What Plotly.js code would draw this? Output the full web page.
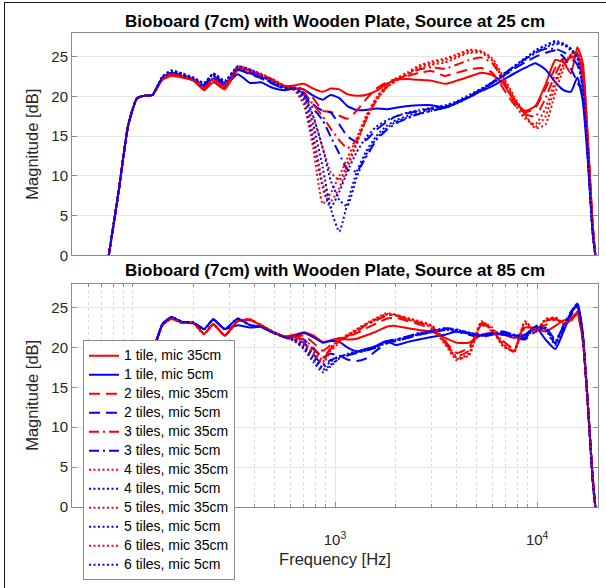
<!DOCTYPE html>
<html><head><meta charset="utf-8">
<script src="https://cdn.plot.ly/plotly-3.0.1.min.js"></script>
<style>
html,body{margin:0;padding:0;background:#fff;overflow:hidden;}
#chart{position:absolute;left:0;top:0;width:606px;height:588px;}
#frame{position:absolute;left:4px;top:2px;width:610px;height:600px;border-left:1.5px solid #1a1a1a;border-top:1.5px solid #1a1a1a;pointer-events:none;}
</style></head><body>
<div id="chart"></div><div id="frame"></div>
<script>
// Frequency grid (Hz), shared by all curves
const freqHz = [76, 85, 95, 105, 115, 125, 140, 155, 175, 200, 225, 250, 285, 330, 380, 430, 490, 560, 630, 700,
  780, 870, 950, 1050, 1150, 1280, 1420, 1600, 1800, 2000, 2300, 2600, 3000, 3500, 4000, 4600, 5300, 6000, 6800, 7700,
  8700, 9800, 11000, 12300, 13500, 14700, 15800, 16800, 17800, 18800, 19400];

const seriesNames = ['1 tile, mic 35cm', '1 tile, mic 5cm', '2 tiles, mic 35cm', '2 tiles, mic 5cm',
  '3 tiles, mic 35cm', '3 tiles, mic 5cm', '4 tiles, mic 35cm', '4 tiles, mic 5cm',
  '5 tiles, mic 35cm', '5 tiles, mic 5cm', '6 tiles, mic 35cm', '6 tiles, mic 5cm'];

const titleTop = 'Bioboard (7cm) with Wooden Plate, Source at 25 cm';
const titleBottom = 'Bioboard (7cm) with Wooden Plate, Source at 85 cm';
const xTickVals = [1000, 10000];
const xTickText = ['10<sup>3</sup>', '10<sup>4</sup>'];
const yTickVals = [0, 5, 10, 15, 20, 25];

// Source at 25 cm (dB)
const top_r1 = [0, 8.0, 16.5, 19.8, 20.1, 20.2, 22.1, 22.6, 22.4, 22.0, 20.8, 21.8, 20.9, 23.3, 22.9, 22.5, 22.0, 21.3, 21.4, 21.6, 21.0, 20.6, 21.0, 20.9, 20.3, 20.1, 20.2, 20.7, 21.6, 22.1, 22.2, 22.1, 22.0, 21.6, 22.0, 22.5, 23.0, 22.7, 21.6, 19.5, 18.2, 18.8, 21.5, 24.6, 24.3, 22.9, 26.2, 24.3, 15.0, 4.0, 0];
const top_b1 = [0, 8.0, 16.5, 19.8, 20.1, 20.2, 22.3, 22.9, 22.6, 22.0, 21.2, 22.3, 21.4, 22.8, 21.7, 21.8, 21.1, 20.8, 21.0, 20.9, 20.1, 19.6, 20.2, 19.8, 18.8, 18.3, 18.3, 18.5, 18.4, 18.6, 18.8, 18.9, 18.9, 18.6, 19.2, 19.9, 20.7, 21.3, 22.1, 22.9, 23.6, 24.2, 23.4, 21.8, 20.8, 20.6, 22.4, 19.5, 12.0, 3.0, 0];
const top_r2 = [0, 8.0, 16.5, 19.8, 20.1, 20.2, 22.2, 22.7, 22.5, 22.1, 20.9, 22.0, 21.0, 23.5, 23.2, 22.7, 22.1, 21.3, 21.3, 20.9, 19.8, 18.2, 18.1, 17.6, 17.2, 18.2, 19.6, 21.0, 21.8, 22.2, 22.6, 23.0, 23.2, 22.6, 23.0, 23.4, 23.6, 23.0, 21.0, 19.0, 18.0, 18.6, 21.0, 23.6, 24.8, 24.2, 25.4, 23.5, 14.5, 4.0, 0];
const top_b2 = [0, 8.0, 16.5, 19.8, 20.1, 20.2, 22.4, 23.0, 22.7, 22.2, 21.4, 22.6, 21.6, 23.4, 22.8, 22.3, 21.6, 21.0, 21.0, 20.5, 19.0, 18.2, 18.0, 16.5, 15.0, 14.3, 14.5, 15.8, 16.8, 17.5, 17.9, 18.2, 18.5, 18.7, 19.3, 20.0, 20.9, 21.7, 22.6, 23.5, 24.3, 25.0, 25.5, 25.8, 25.0, 23.5, 21.8, 20.5, 12.5, 3.0, 0];
const top_r3 = [0, 8.0, 16.5, 19.8, 20.1, 20.2, 22.2, 22.8, 22.5, 22.1, 21.0, 22.0, 21.1, 23.6, 23.2, 22.7, 22.1, 21.2, 21.1, 20.4, 19.0, 17.5, 16.0, 14.5, 13.5, 14.5, 17.0, 19.5, 21.2, 22.0, 22.8, 23.4, 23.7, 23.5, 24.0, 24.6, 24.9, 24.2, 22.0, 19.5, 17.8, 17.5, 19.8, 22.8, 24.6, 24.9, 25.2, 22.5, 14.0, 4.0, 0];
const top_b3 = [0, 8.0, 16.5, 19.8, 20.1, 20.2, 22.4, 23.0, 22.7, 22.2, 21.5, 22.7, 21.7, 23.5, 23.0, 22.4, 21.7, 21.0, 21.0, 20.3, 18.5, 17.0, 15.0, 12.8, 10.8, 10.6, 12.3, 14.5, 15.8, 16.6, 17.3, 17.8, 18.2, 18.6, 19.2, 20.0, 20.9, 21.8, 22.8, 23.8, 24.7, 25.5, 26.0, 26.0, 25.6, 25.0, 24.0, 21.5, 13.0, 3.0, 0];
const top_r4 = [0, 8.0, 16.5, 19.8, 20.1, 20.2, 22.3, 22.8, 22.6, 22.2, 21.1, 22.1, 21.2, 23.7, 23.3, 22.8, 22.2, 21.3, 20.8, 19.0, 13.5, 6.5, 7.8, 10.0, 12.2, 14.8, 17.5, 19.8, 21.3, 22.0, 22.9, 23.6, 24.0, 24.3, 24.9, 25.5, 25.5, 24.5, 22.0, 19.2, 17.2, 16.5, 18.5, 22.0, 24.0, 25.0, 25.3, 22.0, 14.0, 4.0, 0];
const top_b4 = [0, 8.0, 16.5, 19.8, 20.1, 20.2, 22.5, 23.2, 22.8, 22.3, 21.6, 22.8, 21.8, 23.7, 23.3, 22.6, 21.8, 21.0, 20.9, 19.5, 14.5, 8.5, 6.0, 8.0, 10.5, 13.0, 14.8, 16.2, 17.0, 17.5, 18.0, 18.3, 18.6, 18.9, 19.4, 20.2, 21.0, 21.8, 22.8, 23.8, 24.8, 25.7, 26.4, 26.8, 26.6, 26.0, 25.0, 21.5, 13.0, 3.0, 0];
const top_r5 = [0, 8.0, 16.5, 19.8, 20.1, 20.2, 22.3, 22.8, 22.6, 22.2, 21.2, 22.2, 21.3, 23.7, 23.3, 22.8, 22.2, 21.4, 21.0, 19.8, 15.5, 9.0, 6.8, 8.5, 11.0, 14.0, 17.0, 19.5, 21.1, 22.0, 22.9, 23.8, 24.2, 24.6, 25.1, 25.7, 25.6, 24.6, 22.2, 19.8, 17.5, 16.2, 17.5, 21.5, 24.0, 25.3, 25.5, 22.5, 14.0, 4.0, 0];
const top_b5 = [0, 8.0, 16.5, 19.8, 20.1, 20.2, 22.5, 23.2, 22.9, 22.3, 21.7, 22.9, 21.9, 23.8, 23.4, 22.7, 21.9, 21.1, 21.0, 20.0, 16.5, 11.0, 6.0, 3.0, 6.5, 10.5, 13.0, 15.0, 16.3, 17.0, 17.6, 18.0, 18.4, 18.8, 19.3, 20.0, 20.9, 21.8, 22.8, 23.8, 24.8, 25.8, 26.5, 27.0, 26.7, 26.0, 25.0, 21.0, 13.0, 3.0, 0];
const top_r6 = [0, 8.0, 16.5, 19.8, 20.1, 20.2, 22.3, 22.9, 22.6, 22.2, 21.2, 22.2, 21.3, 23.8, 23.4, 22.9, 22.2, 21.4, 21.2, 20.3, 17.5, 13.5, 10.5, 9.5, 11.5, 14.3, 17.2, 19.8, 21.5, 22.3, 23.1, 23.9, 24.4, 24.8, 25.3, 25.9, 25.7, 24.8, 22.5, 20.0, 17.8, 16.0, 16.5, 20.5, 23.5, 25.3, 25.6, 23.0, 14.0, 4.0, 0];
const top_b6 = [0, 8.0, 16.5, 19.8, 20.1, 20.2, 22.5, 23.3, 22.9, 22.4, 21.7, 22.9, 22.0, 23.8, 23.4, 22.7, 21.9, 21.1, 21.1, 20.3, 17.5, 13.5, 9.5, 7.0, 6.2, 9.8, 12.6, 14.7, 16.0, 16.8, 17.4, 17.8, 18.2, 18.6, 19.1, 19.9, 20.8, 21.6, 22.6, 23.6, 24.6, 25.5, 26.2, 26.6, 26.5, 25.8, 24.8, 21.0, 13.0, 3.0, 0];

// Source at 85 cm (dB)
const bot_r1 = [0, 7.5, 15.0, 19.0, 20.0, 19.7, 22.8, 23.6, 23.1, 23.0, 21.7, 22.9, 21.5, 23.3, 23.4, 22.8, 22.0, 21.4, 21.6, 21.9, 21.5, 20.7, 20.9, 21.2, 21.0, 21.1, 21.5, 22.0, 22.6, 22.7, 22.4, 22.2, 22.0, 21.2, 20.6, 20.6, 21.6, 21.8, 21.6, 21.2, 21.6, 22.3, 22.0, 22.7, 23.4, 23.6, 24.4, 21.5, 13.0, 4.0, 0];
const bot_b1 = [0, 7.5, 15.0, 19.0, 20.0, 19.7, 22.9, 23.8, 23.2, 23.1, 22.3, 23.5, 22.3, 22.8, 22.5, 22.6, 21.9, 21.3, 21.4, 21.8, 21.3, 20.6, 20.8, 20.7, 20.0, 19.5, 19.8, 20.2, 20.8, 20.3, 20.7, 21.0, 21.3, 21.6, 22.0, 21.7, 21.5, 21.8, 21.6, 21.5, 21.6, 22.6, 21.0, 19.8, 22.0, 24.2, 25.5, 22.0, 13.0, 3.5, 0];
const bot_r2 = [0, 7.5, 15.0, 19.0, 20.0, 19.7, 22.8, 23.6, 23.1, 23.0, 21.7, 22.9, 21.5, 23.3, 23.5, 22.8, 22.0, 21.4, 21.3, 21.5, 20.6, 19.6, 20.3, 21.0, 21.3, 21.8, 22.4, 23.0, 23.6, 23.7, 23.3, 22.9, 22.3, 20.8, 19.3, 20.0, 22.8, 22.0, 20.8, 19.8, 22.5, 22.4, 22.8, 23.5, 23.2, 23.4, 24.2, 21.0, 13.0, 4.0, 0];
const bot_b2 = [0, 7.5, 15.0, 19.0, 20.0, 19.7, 22.9, 23.8, 23.2, 23.1, 22.3, 23.5, 22.3, 23.6, 22.8, 22.6, 21.9, 21.3, 21.2, 21.0, 19.8, 18.8, 19.2, 19.0, 18.5, 18.3, 18.6, 19.6, 20.5, 20.8, 21.2, 21.6, 21.9, 22.2, 22.0, 21.6, 21.3, 21.6, 21.8, 21.2, 21.0, 22.0, 22.5, 21.0, 22.5, 24.0, 25.2, 21.5, 13.0, 3.5, 0];
const bot_r3 = [0, 7.5, 15.0, 19.0, 20.0, 19.7, 22.8, 23.6, 23.1, 23.0, 21.7, 22.9, 21.5, 23.3, 23.5, 22.8, 22.0, 21.4, 21.2, 21.0, 20.0, 18.8, 19.8, 20.8, 21.4, 22.0, 22.8, 23.4, 24.0, 24.0, 23.5, 23.1, 22.6, 20.6, 18.9, 19.6, 23.0, 22.2, 20.3, 19.6, 23.0, 22.2, 23.3, 23.6, 23.0, 23.5, 24.3, 21.0, 13.0, 4.0, 0];
const bot_b3 = [0, 7.5, 15.0, 19.0, 20.0, 19.7, 22.9, 23.8, 23.2, 23.1, 22.3, 23.5, 22.3, 23.6, 22.8, 22.6, 21.9, 21.3, 21.0, 20.6, 19.2, 17.8, 18.4, 18.9, 19.0, 19.3, 19.6, 20.0, 20.8, 21.0, 21.4, 21.8, 22.0, 22.4, 22.3, 21.8, 21.5, 21.7, 22.0, 21.5, 21.2, 22.5, 22.3, 20.5, 22.8, 24.5, 25.3, 21.5, 13.0, 3.5, 0];
const bot_r4 = [0, 7.5, 15.0, 19.0, 20.0, 19.7, 22.8, 23.6, 23.1, 23.0, 21.7, 22.9, 21.5, 23.3, 23.5, 22.8, 22.0, 21.4, 21.0, 20.3, 19.3, 18.2, 19.8, 20.8, 21.5, 22.2, 22.9, 23.6, 24.2, 24.0, 23.6, 23.2, 22.7, 20.6, 18.7, 19.2, 23.2, 22.3, 20.2, 19.5, 23.2, 22.0, 23.5, 23.7, 23.0, 23.5, 24.4, 21.0, 13.0, 4.0, 0];
const bot_b4 = [0, 7.5, 15.0, 19.0, 20.0, 19.7, 22.9, 23.8, 23.2, 23.1, 22.3, 23.5, 22.3, 23.6, 22.8, 22.6, 21.9, 21.3, 20.9, 20.0, 18.6, 17.2, 17.8, 18.6, 19.0, 19.4, 19.6, 20.1, 20.7, 20.9, 21.3, 21.7, 22.0, 22.3, 22.2, 21.9, 21.6, 21.6, 21.8, 21.6, 21.3, 22.6, 22.4, 20.6, 22.6, 24.3, 25.4, 21.5, 13.0, 3.5, 0];
const bot_r5 = [0, 7.5, 15.0, 19.0, 20.0, 19.7, 22.8, 23.6, 23.1, 23.0, 21.7, 22.9, 21.5, 23.3, 23.5, 22.8, 22.0, 21.4, 20.9, 20.0, 19.0, 18.0, 19.5, 20.6, 21.4, 22.1, 22.8, 23.5, 24.1, 24.1, 23.7, 23.3, 22.8, 20.9, 18.6, 19.0, 23.1, 22.5, 20.5, 19.4, 23.3, 22.1, 23.4, 23.8, 23.1, 23.3, 24.5, 21.0, 13.0, 4.0, 0];
const bot_b5 = [0, 7.5, 15.0, 19.0, 20.0, 19.7, 22.9, 23.8, 23.2, 23.1, 22.3, 23.5, 22.3, 23.6, 22.8, 22.6, 21.9, 21.3, 20.8, 19.8, 18.2, 16.9, 17.6, 18.7, 19.2, 19.5, 19.7, 20.0, 20.6, 20.8, 21.2, 21.6, 21.9, 22.2, 22.1, 21.8, 21.5, 21.7, 21.9, 21.5, 21.2, 22.4, 22.2, 20.3, 22.4, 24.1, 25.3, 21.5, 13.0, 3.5, 0];
const bot_r6 = [0, 7.5, 15.0, 19.0, 20.0, 19.7, 22.8, 23.6, 23.1, 23.0, 21.7, 22.9, 21.5, 23.3, 23.5, 22.8, 22.0, 21.4, 21.1, 20.5, 19.5, 18.5, 20.0, 21.0, 21.6, 22.3, 23.0, 23.7, 24.3, 24.1, 23.5, 23.1, 22.5, 20.4, 18.4, 19.3, 23.3, 22.1, 20.1, 19.6, 23.1, 21.9, 23.6, 23.6, 22.9, 23.6, 24.3, 21.0, 13.0, 4.0, 0];
const bot_b6 = [0, 7.5, 15.0, 19.0, 20.0, 19.7, 22.9, 23.8, 23.2, 23.1, 22.3, 23.5, 22.3, 23.6, 22.8, 22.6, 21.9, 21.3, 21.0, 20.2, 18.9, 17.5, 18.2, 18.9, 19.1, 19.4, 19.7, 20.2, 20.8, 21.0, 21.4, 21.8, 22.1, 22.4, 22.2, 21.8, 21.5, 21.8, 22.0, 21.6, 21.4, 22.7, 22.5, 20.8, 22.7, 24.4, 25.5, 21.5, 13.0, 3.5, 0];

const topSeries = [top_r1, top_b1, top_r2, top_b2, top_r3, top_b3, top_r4, top_b4, top_r5, top_b5, top_r6, top_b6];
const botSeries = [bot_r1, bot_b1, bot_r2, bot_b2, bot_r3, bot_b3, bot_r4, bot_b4, bot_r5, bot_b5, bot_r6, bot_b6];

// Styles
const RED = 'rgb(255,0,0)', BLUE = 'rgb(0,0,255)';
const colors = [RED, BLUE, RED, BLUE, RED, BLUE, RED, BLUE, RED, BLUE, RED, BLUE];
const DOT = '2px,2.5px', DASH = '11px,6px', DASHDOT = '10px,4px,2px,4px';
const dashes = ['solid', 'solid', DASH, DASH, DASHDOT, DASHDOT, DOT, DOT, DOT, DOT, DOT, DOT];

const FONT = '"Liberation Sans", Arial, Helvetica, sans-serif';
const traces = [];
topSeries.forEach((ys, i) => traces.push({
  type: 'scatter', mode: 'lines', x: freqHz, y: ys, xaxis: 'x', yaxis: 'y',
  name: seriesNames[i], showlegend: false, hoverinfo: 'skip',
  line: {color: colors[i], width: 2, dash: dashes[i], shape: 'spline', smoothing: 0.5}
}));
botSeries.forEach((ys, i) => traces.push({
  type: 'scatter', mode: 'lines', x: freqHz, y: ys, xaxis: 'x2', yaxis: 'y2',
  name: '<span style="font-size:14px">' + seriesNames[i] + '</span>', showlegend: true, hoverinfo: 'skip',
  line: {color: colors[i], width: 2, dash: dashes[i], shape: 'spline', smoothing: 0.5}
}));

const AX = '#8c8c8c', GRID = '#e6e6e6';
const tickFont = {family: FONT, size: 15, color: '#262626'};
const xr = [Math.log10(50), Math.log10(20000)];
const minorVals = [60, 70, 80, 90, 100, 200, 300, 400, 500, 600, 700, 800, 900, 2000, 3000, 4000, 5000, 6000, 7000, 8000, 9000];
const yAxisBase = {
  range: [0, 28], tickvals: yTickVals, ticks: 'inside', ticklen: 5, tickcolor: AX,
  showline: true, linecolor: AX, linewidth: 1, mirror: 'ticks', showgrid: true, gridcolor: GRID,
  zeroline: false, tickfont: tickFont, fixedrange: true
};
const layout = {
  width: 606, height: 588,
  margin: {l: 72, r: 8, t: 33, b: 69},
  paper_bgcolor: '#fff', plot_bgcolor: '#fff',
  font: {family: FONT, color: '#262626'},
  xaxis: {type: 'log', range: xr, anchor: 'y', showticklabels: false, ticks: '', showgrid: false,
    showline: true, linecolor: AX, mirror: true, zeroline: false},
  yaxis: Object.assign({}, yAxisBase, {domain: [0.5309, 1], anchor: 'x',
    title: {text: 'Magnitude [dB]', font: {family: FONT, size: 16.5, color: '#262626'}, standoff: 8}}),
  xaxis2: {type: 'log', range: xr, anchor: 'y2', tickvals: xTickVals, ticktext: xTickText,
    ticks: 'inside', ticklen: 5, tickcolor: AX, showline: true, linecolor: AX, mirror: 'ticks',
    showgrid: true, gridcolor: GRID, zeroline: false, tickfont: tickFont, ticklabelstandoff: 19,
    minor: {tickvals: minorVals, ticks: 'inside', ticklen: 3, tickcolor: AX, showgrid: true, gridcolor: '#dadada', griddash: 'dot'},
    title: {text: 'Frequency [Hz]', font: {family: FONT, size: 16.5, color: '#262626'}, standoff: 6}},
  yaxis2: Object.assign({}, yAxisBase, {domain: [0, 0.4712], anchor: 'x2',
    title: {text: 'Magnitude [dB]', font: {family: FONT, size: 16.5, color: '#262626'}, standoff: 8}}),
  legend: {x: 0.0209, y: 0.352, xanchor: 'left', yanchor: 'top', bgcolor: '#fff',
    bordercolor: AX, borderwidth: 1, font: {family: FONT, size: 12, color: '#000'}, tracegroupgap: 0},
  annotations: [
    {text: '<b>' + titleTop + '</b>', xref: 'paper', yref: 'paper', x: 0.5, y: 1.0247,
      xanchor: 'center', yanchor: 'middle', showarrow: false, font: {family: FONT, size: 17, color: '#000'}},
    {text: '<b>' + titleBottom + '</b>', xref: 'paper', yref: 'paper', x: 0.5, y: 0.498,
      xanchor: 'center', yanchor: 'middle', showarrow: false, font: {family: FONT, size: 17, color: '#000'}}
  ]
};
Plotly.newPlot('chart', traces, layout, {staticPlot: true, displayModeBar: false});
</script></body></html>
